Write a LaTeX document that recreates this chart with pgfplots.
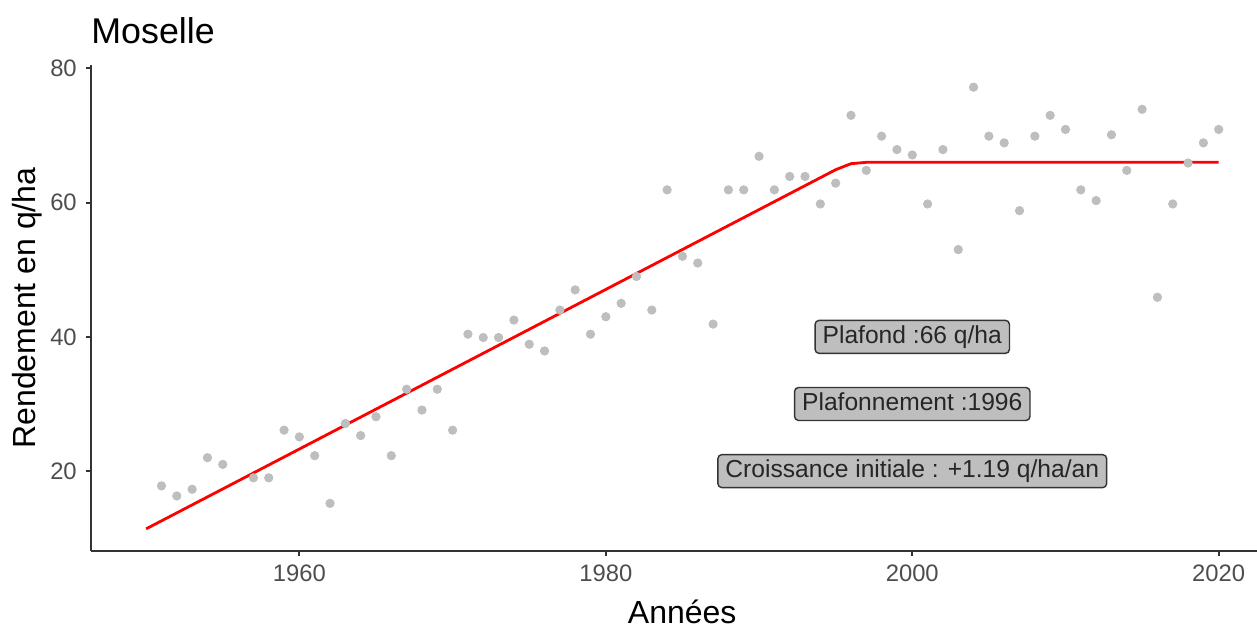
\documentclass[border=0pt]{standalone}
\usepackage{fontspec}
\setmainfont{Liberation Sans}
\usepackage{pgfplots}
\pgfplotsset{compat=1.18}
\definecolor{ptgray}{RGB}{190,190,190}
\definecolor{ticktxt}{RGB}{77,77,77}
\definecolor{axline}{RGB}{51,51,51}
\definecolor{boxfill}{RGB}{190,190,190}
\begin{document}
\begin{tikzpicture}
\begin{axis}[
  name=ax,
  scale only axis,
  width=583pt, height=243pt,
  xmin=1946.4, xmax=2022.5,
  ymin=8.1, ymax=80.5,
  axis x line=bottom, axis y line=left,
  axis line style={-, color=axline, line width=0.9pt},
  xtick={1960,1980,2000,2020},
  ytick={20,40,60,80},
  tick align=outside,
  major tick length=2.6pt,
  tick style={color=axline, line width=0.9pt},
  /pgf/number format/assume math mode=true,
  /pgf/number format/1000 sep={},
  ticklabel style={font=\fontsize{11.9}{14}\selectfont, text=ticktxt},
  xticklabel style={yshift=-1pt},
  yticklabel style={xshift=-1pt},
  clip=false,
]
\addplot[only marks, mark=*, mark size=2.1pt, color=ptgray] coordinates {
(1951,17.8) (1952,16.3) (1953,17.3) (1954,22.0) (1955,21.0) (1957,19.0) (1958,19.0)
(1959,26.1) (1960,25.1) (1961,22.3) (1962,15.2) (1963,27.1) (1964,25.3) (1965,28.1)
(1966,22.3) (1967,32.2) (1968,29.1) (1969,32.2) (1970,26.1) (1971,40.4) (1972,39.9)
(1973,39.9) (1974,42.5) (1975,38.9) (1976,37.9) (1977,44.0) (1978,47.0) (1979,40.4)
(1980,43.0) (1981,45.0) (1982,49.0) (1983,44.0) (1984,61.9) (1985,52.0) (1986,51.0)
(1987,41.9) (1988,61.9) (1989,61.9) (1990,66.9) (1991,61.9) (1992,63.9) (1993,63.9)
(1994,59.8) (1995,62.9) (1996,73.0) (1997,64.8) (1998,69.9) (1999,67.9) (2000,67.1)
(2001,59.8) (2002,67.9) (2003,53.0) (2004,77.2) (2005,69.9) (2006,68.9) (2007,58.8)
(2008,69.9) (2009,73.0) (2010,70.9) (2011,61.9) (2012,60.3) (2013,70.1) (2014,64.8)
(2015,73.9) (2016,45.9) (2017,59.8) (2018,65.9) (2019,68.9) (2020,70.9)
};
\addplot[color=red, line width=1.4pt, line join=round] coordinates {
(1950,11.4) (1995,64.9) (1996,65.8) (1997,66.0) (2020,66.0)
};
\begin{scope}[every node/.style={fill=boxfill, draw=axline, line width=0.7pt, rounded corners=2pt,
   font=\fontsize{12.3}{14}\selectfont, text=black!85, inner xsep=3.8pt, inner ysep=2.4pt,
   text height=9pt, text depth=2.7pt}]
\node at (axis cs:2000,40) {Plafond :66 q/ha};
\node at (axis cs:2000,30) {Plafonnement :1996};
\node at (axis cs:2000,20) {Croissance initiale : +1.19 q/ha/an};
\end{scope}
\node[anchor=base west, font=\fontsize{17.9}{22}\selectfont, inner sep=0pt] at ([yshift=11pt]axis description cs:0,1) {Moselle};
\node[rotate=90, anchor=base, font=\fontsize{16}{19}\selectfont, inner sep=0pt] at ([xshift=-27.5pt]axis description cs:0,0.5) {Rendement en q/ha};
\node[anchor=base, font=\fontsize{16}{19}\selectfont, inner sep=0pt] at ([yshift=-36pt]axis description cs:0.507,0) {Années};
\end{axis}
\pgfresetboundingbox
\path (ax.south west) ++(-45.5pt,-38pt) coordinate (bl);
\path (ax.north east) ++(0pt,32.5pt) coordinate (tr);
\path[use as bounding box] (bl) rectangle (tr);
\end{tikzpicture}
\end{document}
